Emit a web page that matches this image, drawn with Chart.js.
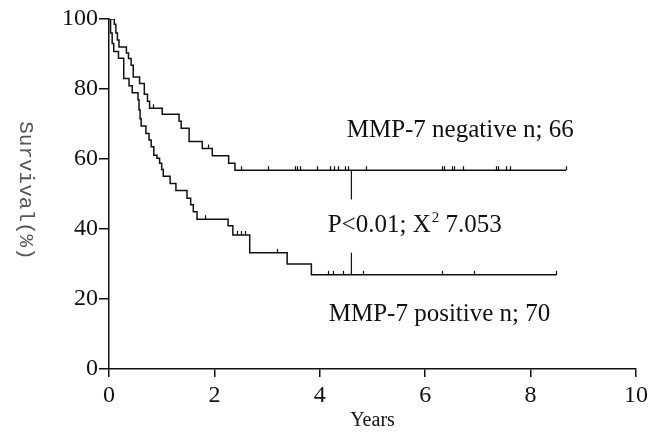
<!DOCTYPE html>
<html>
<head>
<meta charset="utf-8">
<script src="https://cdn.jsdelivr.net/npm/chart.js@4/dist/chart.umd.min.js"></script>
<style>
  html, body { margin: 0; padding: 0; background: #fff; }
  #wrap { width: 661px; height: 435px; }
</style>
</head>
<body>
<div id="wrap"><canvas id="km"></canvas></div>
<script>
// Kaplan-Meier curves (years, survival %)
const negTimes = [0, 0.1, 0.13, 0.16, 0.19, 0.33, 0.37, 0.42, 0.46, 0.58, 0.67, 0.73, 0.77, 1.01, 1.33, 1.37, 1.52, 1.77, 1.96, 2.27, 2.39, 8.67];
const negSurv  = [100, 98.5, 96, 94, 92, 90.3, 88.7, 86.8, 83.4, 81.6, 78.5, 76.5, 74.5, 72.8, 70.8, 68.8, 65, 63, 60.9, 58.8, 56.8, 56.8];
const negCensor = [0.83, 1.88, 2.51, 3.01, 3.52, 3.57, 3.63, 3.95, 4.2, 4.27, 4.34, 4.47, 4.54, 4.88, 6.31, 6.35, 6.5, 6.55, 6.71, 7.34, 7.38, 7.54, 7.6, 8.67];

const posTimes = [0, 0.03, 0.06, 0.09, 0.18, 0.28, 0.38, 0.44, 0.55, 0.57, 0.59, 0.61, 0.7, 0.76, 0.8, 0.85, 0.91, 0.96, 1.0, 1.03, 1.16, 1.27, 1.48, 1.55, 1.6, 1.67, 2.26, 2.35, 2.67, 3.38, 3.84, 8.49];
const posSurv  = [100, 96, 93, 90.7, 88.8, 83, 80.9, 78.9, 76.9, 74, 71.5, 69.4, 67.3, 65.4, 63.5, 61.1, 60.2, 58.8, 57, 55.1, 53, 51, 48.8, 46.9, 44.9, 42.8, 40.9, 38.3, 33.2, 30, 26.9, 26.9];
const posCensor = [1.83, 2.43, 2.51, 2.59, 3.18, 4.16, 4.25, 4.44, 4.82, 6.32, 6.93, 8.49];

// divider line between the two curves at 4.6 years
const dividerX = 4.6;
const dividerTop = [56.8, 48.4];
const dividerBottom = [33.2, 26.9];

const xTicks = [0, 2, 4, 6, 8, 10];
const yTicks = [0, 20, 40, 60, 80, 100];

const labelNeg = 'MMP-7 negative n; 66';
const labelPos = 'MMP-7 positive n; 70';
const pText = ['P<0.01; X', '2', ' 7.053'];

const toPts = (t, s) => t.map((v, i) => ({ x: v, y: s[i] }));

// survival level at a time (step lookup in the arrays above)
function survAt(times, surv, t) {
    let v = surv[0];
    for (let i = 0; i < times.length; i++) { if (times[i] <= t) v = surv[i]; }
    return v;
}

const serif = '"Liberation Serif", "Times New Roman", serif';

const annotations = {
    id: 'annotations',
    afterDatasetsDraw(chart) {
        const { ctx, scales: { x, y } } = chart;
        ctx.save();
        ctx.strokeStyle = '#111';
        ctx.lineWidth = 1.2;
        // censoring ticks
        [[negTimes, negSurv, negCensor], [posTimes, posSurv, posCensor]].forEach(([t, s, c]) => {
            c.forEach(ct => {
                const px = Math.round(x.getPixelForValue(ct)) + 0.5;
                const py = y.getPixelForValue(survAt(t, s, ct));
                ctx.beginPath();
                ctx.moveTo(px, py);
                ctx.lineTo(px, py - 4);
                ctx.stroke();
            });
        });

        ctx.fillStyle = '#111';
        ctx.textBaseline = 'alphabetic';
        ctx.textAlign = 'left';
        ctx.font = '25px ' + serif;
        ctx.fillText(labelNeg, x.getPixelForValue(4.51), y.getPixelForValue(66.2));
        ctx.fillText(labelPos, x.getPixelForValue(4.17), y.getPixelForValue(13.6));

        let px = x.getPixelForValue(4.15);
        const py = y.getPixelForValue(39.2);
        ctx.fillText(pText[0], px, py);
        px += ctx.measureText(pText[0]).width + 1;
        ctx.font = '15px ' + serif;
        ctx.fillText(pText[1], px, py - 10);
        px += ctx.measureText(pText[1]).width;
        ctx.font = '25px ' + serif;
        ctx.fillText(pText[2], px, py);

        // y axis title, reading top to bottom
        ctx.save();
        ctx.translate(26, y.getPixelForValue(51));
        ctx.rotate(Math.PI / 2);
        ctx.textAlign = 'center';
        ctx.textBaseline = 'middle';
        ctx.font = '21px "Liberation Mono", monospace';
        ctx.fillStyle = '#555';
        ctx.fillText('Survival(%)', 0, 0);
        ctx.restore();
        ctx.restore();
    }
};

const lineStyle = { borderColor: '#111', borderWidth: 1.5, pointRadius: 0, fill: false, stepped: 'before' };

new Chart(document.getElementById('km'), {
    type: 'line',
    data: {
        datasets: [
            { ...lineStyle, label: 'negative', data: toPts(negTimes, negSurv) },
            { ...lineStyle, label: 'positive', data: toPts(posTimes, posSurv) },
            { ...lineStyle, stepped: false, borderWidth: 1.2, label: 'div1', data: dividerTop.map(v => ({ x: dividerX, y: v })) },
            { ...lineStyle, stepped: false, borderWidth: 1.2, label: 'div2', data: dividerBottom.map(v => ({ x: dividerX, y: v })) }
        ]
    },
    options: {
        responsive: true,
        maintainAspectRatio: false,
        animation: false,
        devicePixelRatio: 1,
        layout: { padding: { top: 19, right: 25, left: 0, bottom: 0 } },
        plugins: { legend: { display: false }, tooltip: { enabled: false } },
        scales: {
            x: {
                type: 'linear', min: 0, max: 10,
                afterBuildTicks: s => { s.ticks = xTicks.map(v => ({ value: v })); },
                afterFit: s => { s.height = 66; },
                ticks: { color: '#111', font: { family: serif, size: 24 }, padding: 4 },
                grid: { drawOnChartArea: false, drawTicks: true, tickLength: 8, color: '#111', lineWidth: 1.5 },
                border: { color: '#111', width: 1.5 },
                title: { display: true, text: 'Years', color: '#111', font: { family: serif, size: 20 }, padding: { top: 0, bottom: 2 } }
            },
            y: {
                min: 0, max: 100,
                afterBuildTicks: s => { s.ticks = yTicks.map(v => ({ value: v })); },
                afterFit: s => { s.width = 109; },
                ticks: { color: '#111', font: { family: serif, size: 24 }, padding: 1 },
                grid: { drawOnChartArea: false, drawTicks: true, tickLength: 10, color: '#111', lineWidth: 1.5 },
                border: { color: '#111', width: 1.5 }
            }
        }
    },
    plugins: [annotations]
});
</script>
</body>
</html>
